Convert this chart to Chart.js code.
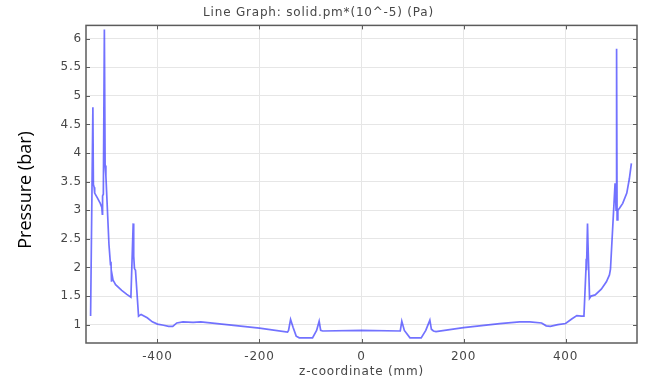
<!DOCTYPE html>
<html>
<head>
<meta charset="utf-8">
<script src="https://cdn.jsdelivr.net/npm/chart.js@4.4.0/dist/chart.umd.min.js"></script>
<style>
  html, body { margin: 0; padding: 0; background: #fff; }
  #wrap { width: 651px; height: 383px; }
</style>
</head>
<body>
<div id="wrap"><canvas id="myChart" width="651" height="383"></canvas></div>
<script>
// pressure along the z axis (mm -> bar)
const zCoord = [
  -531, -526.5, -525.5, -524, -523, -518, -512, -509, -508, -507.5, -506, -504, -502.5, -501,
  -495, -492, -491, -490, -489, -487, -482, -470, -460, -452, -447.5, -447, -446, -445, -443,
  -437, -432, -420, -410, -400, -388, -378, -370, -362, -350, -330, -315, -200, -145, -143,
  -139, -134, -128, -122, -96, -88, -83, -80, -76, 0, 76, 79, 84, 95, 117, 126, 134, 137,
  138, 141, 146, 200, 271, 310, 330, 353, 362, 370, 385, 400, 412, 422, 431, 436, 440, 440.5,
  441, 443, 444, 447, 450, 458, 470, 480, 486, 488, 497, 499, 500, 501, 502.5, 506, 512, 520,
  525, 529
];
const pressure = [
  1.15, 4.8, 3.45, 3.4, 3.3, 3.22, 3.12, 3.05, 2.93, 3.25, 3.28, 6.16, 3.78, 3.6,
  2.4, 2.05, 2.1, 1.75, 1.88, 1.78, 1.7, 1.6, 1.53, 1.48, 2.77, 2.15, 2.2, 1.98, 1.95,
  1.15, 1.18, 1.12, 1.05, 1.01, 0.99, 0.97, 0.97, 1.03, 1.05, 1.04, 1.05, 0.94, 0.87, 0.9,
  1.09, 0.95, 0.8, 0.77, 0.77, 0.9, 1.06, 0.9, 0.89, 0.9, 0.89, 1.06, 0.9, 0.77, 0.77, 0.9, 1.08, 0.92,
  0.92, 0.89, 0.88, 0.95, 1.02, 1.05, 1.05, 1.03, 0.98, 0.97, 1.0, 1.02, 1.1, 1.16, 1.15, 1.15, 1.98, 2.15,
  1.95, 2.77, 2.4, 1.46, 1.5, 1.52, 1.62, 1.75, 1.87, 1.97, 3.47, 3.0, 5.82, 2.83, 3.0, 3.04, 3.12, 3.3,
  3.55, 3.82
];
const xTicks = [-400, -200, 0, 200, 400];
const yTicks = [1, 1.5, 2, 2.5, 3, 3.5, 4, 4.5, 5, 5.5, 6];

const labelFont = { family: "'DejaVu Sans', sans-serif", size: 12 };
const textGrey = "#474747";

function line(ctx, x1, y1, x2, y2) {
  ctx.beginPath();
  ctx.moveTo(x1, y1);
  ctx.lineTo(x2, y2);
  ctx.stroke();
}

// wide lettering for the axis and title texts
const wideText = {
  id: "wideText",
  beforeDraw(chart) {
    chart.ctx.letterSpacing = "0.8px";
  },
};

// box round the plot, small ticks pointing inwards, and the side label
const frameTicks = {
  id: "frameTicks",
  afterDatasetsDraw(chart) {
    const { ctx, chartArea: a, scales } = chart;
    ctx.save();
    ctx.strokeStyle = "#5c5c5c";
    ctx.lineWidth = 1;
    xTicks.forEach((v) => {
      const px = Math.round(scales.x.getPixelForValue(v)) + 0.5;
      line(ctx, px, a.top, px, a.top + 4);
      line(ctx, px, a.bottom, px, a.bottom - 4);
    });
    yTicks.forEach((v) => {
      const py = Math.round(scales.y.getPixelForValue(v)) + 0.5;
      line(ctx, a.left, py, a.left + 4, py);
      line(ctx, a.right, py, a.right - 4, py);
    });
    ctx.lineWidth = 1.5;
    ctx.strokeRect(a.left, a.top, a.right - a.left, a.bottom - a.top);

    ctx.letterSpacing = "0px";
    ctx.translate(26, 190);
    ctx.rotate(-Math.PI / 2);
    ctx.font = "18px 'Open Sans', sans-serif";
    ctx.fillStyle = "#000";
    ctx.textAlign = "center";
    ctx.textBaseline = "middle";
    ctx.fillText("Pressure (bar)", 0, 0);
    ctx.restore();
  },
};

const points = zCoord.map((z, i) => ({ x: z, y: pressure[i] }));

const ctx = document.getElementById("myChart").getContext("2d");
const myChart = new Chart(ctx, {
  type: "scatter",
  data: {
    datasets: [
      {
        data: points,
        showLine: true,
        borderColor: "rgba(60, 60, 255, 0.72)",
        borderWidth: 1.7,
        pointRadius: 0,
        tension: 0,
      },
    ],
  },
  options: {
    responsive: false,
    animation: false,
    layout: { padding: { left: 0, right: 14, top: 0, bottom: 0 } },
    plugins: {
      legend: { display: false },
      tooltip: { enabled: false },
      title: {
        display: true,
        text: "Line Graph: solid.pm*(10^-5) (Pa)",
        color: textGrey,
        font: { family: labelFont.family, size: 12, weight: "normal" },
        padding: { top: 6, bottom: 5 },
      },
    },
    scales: {
      x: {
        type: "linear",
        min: -540,
        max: 540,
        afterBuildTicks: (scale) => {
          scale.ticks = xTicks.map((v) => ({ value: v }));
        },
        afterFit: (scale) => {
          scale.height = 40;
        },
        grid: { color: "#e6e6e6", drawTicks: false },
        border: { display: false },
        ticks: {
          color: textGrey,
          font: labelFont,
          padding: 7,
          callback: (v) => String(v),
        },
        title: {
          display: true,
          text: "z-coordinate (mm)",
          color: textGrey,
          font: labelFont,
          padding: { top: 0, bottom: 4 },
        },
      },
      y: {
        min: 0.68,
        max: 6.23,
        afterBuildTicks: (scale) => {
          scale.ticks = yTicks.map((v) => ({ value: v }));
        },
        afterFit: (scale) => {
          scale.width = 86;
        },
        grid: { color: "#e6e6e6", drawTicks: false },
        border: { display: false },
        ticks: {
          color: textGrey,
          font: labelFont,
          padding: 4,
          callback: (v) => String(v),
        },
      },
    },
  },
  plugins: [wideText, frameTicks],
});
</script>
</body>
</html>
